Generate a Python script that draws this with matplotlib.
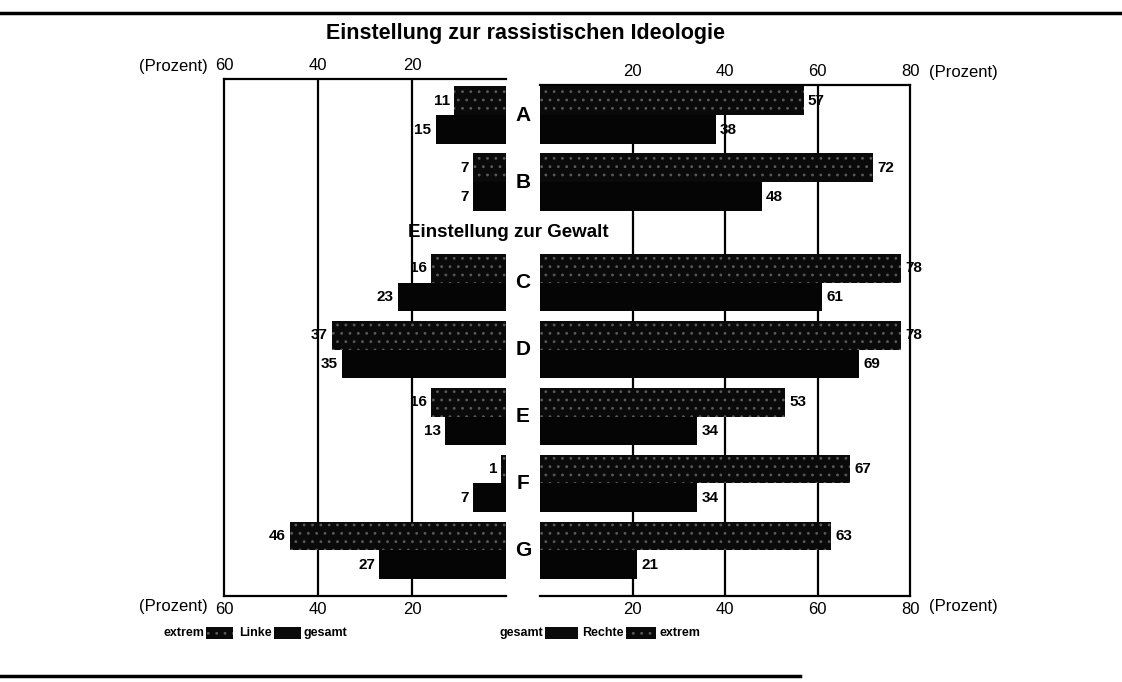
import matplotlib
matplotlib.use('Agg')
import matplotlib.pyplot as plt
import matplotlib.transforms as mtransforms
from matplotlib.patches import Rectangle
from matplotlib.lines import Line2D

plt.rcParams['font.family'] = ['Liberation Sans', 'DejaVu Sans']
plt.rcParams['hatch.linewidth'] = 0.8

# data
categories = ['A', 'B', 'C', 'D', 'E', 'F', 'G']
positions = [0, 1, 2.5, 3.5, 4.5, 5.5, 6.5]
linke_extrem = [11, 7, 16, 37, 16, 1, 46]
linke_gesamt = [15, 7, 23, 35, 13, 7, 27]
rechte_extrem = [57, 72, 78, 78, 53, 67, 63]
rechte_gesamt = [38, 48, 61, 69, 34, 34, 21]
left_ticks = [60, 40, 20]
right_ticks = [20, 40, 60, 80]

W, H = 1122, 682
fig = plt.figure(figsize=(W / 100, H / 100), dpi=100)

def box(x0, y0, x1, y1):
    return [x0 / W, 1 - y1 / H, (x1 - x0) / W, (y1 - y0) / H]

ax_l = fig.add_axes(box(224, 79, 506, 596))
ax_r = fig.add_axes(box(540, 85, 910, 596))

bh = 0.43
top_pos = [p - bh / 2 for p in positions]
bot_pos = [p + bh / 2 for p in positions]

for ax, ext, ges, side in ((ax_l, linke_extrem, linke_gesamt, -1),
                           (ax_r, rechte_extrem, rechte_gesamt, 1)):
    ax.barh(top_pos, ext, height=bh, color='#0a0a0a', zorder=3)
    ax.barh(top_pos, ext, height=bh, facecolor='none', edgecolor='#5a5a5a',
            hatch='..', linewidth=0, zorder=4)
    ax.barh(bot_pos, ges, height=bh, color='#050505', zorder=3)
    for vals, ys in ((ext, top_pos), (ges, bot_pos)):
        for v, y in zip(vals, ys):
            ax.annotate(str(v), (v, y), xytext=(3 * side, 0),
                        textcoords='offset points',
                        ha='left' if side > 0 else 'right', va='center',
                        fontsize=11, fontweight='bold', zorder=5)

ax_l.set_xlim(60, 0)
ax_r.set_xlim(0, 80)
ax_l.set_ylim(7.18, -0.54)
ax_r.set_ylim(7.18, -0.45)

for g in (40, 20):
    ax_l.axvline(g, color='black', lw=1.6, zorder=1)
for g in (20, 40, 60):
    ax_r.axvline(g, color='black', lw=1.6, zorder=1)

ax_l.set_xticks(left_ticks, [str(t) for t in left_ticks])
ax_r.set_xticks(right_ticks, [str(t) for t in right_ticks])
for ax in (ax_l, ax_r):
    ax.set_yticks([])
    ax.tick_params(axis='x', top=True, labeltop=True, length=0,
                   labelsize=12, pad=4)
    for s in ax.spines.values():
        s.set_linewidth(1.6)
ax_l.spines['right'].set_visible(False)
ax_r.spines['left'].set_visible(False)

# "(Prozent)" labels beside the scales
def ftext(x, y, s, **kw):
    fig.text(x / W, 1 - y / H, s, **kw)

ftext(208, 66, '(Prozent)', ha='right', va='center', fontsize=12)
ftext(208, 607, '(Prozent)', ha='right', va='center', fontsize=12)
ftext(929, 72, '(Prozent)', ha='left', va='center', fontsize=12)
ftext(929, 607, '(Prozent)', ha='left', va='center', fontsize=12)

# category letters between the panels
trans = mtransforms.blended_transform_factory(fig.transFigure, ax_r.transData)
for c, p in zip(categories, positions):
    fig.text(523 / W, p, c, transform=trans, ha='center', va='center',
             fontsize=15, fontweight='bold')

ftext(525, 33, 'Einstellung zur rassistischen Ideologie', ha='center',
      va='center', fontsize=15.5, fontweight='bold')
fig.text(408 / W, 1.75, 'Einstellung zur Gewalt', transform=trans,
         ha='left', va='center', fontsize=13.5, fontweight='bold')

# legend row
ly = 633
lkw = dict(va='center', fontsize=9, fontweight='bold')
ftext(204, ly, 'extrem', ha='right', **lkw)
ftext(239, ly, 'Linke', ha='left', **lkw)
ftext(304, ly, 'gesamt', ha='left', **lkw)
ftext(543, ly, 'gesamt', ha='right', **lkw)
ftext(582, ly, 'Rechte', ha='left', **lkw)
ftext(659, ly, 'extrem', ha='left', **lkw)
for x0, x1, hatched in ((206, 233, True), (274, 301, False),
                        (545, 578, False), (626, 656, True)):
    fig.patches.append(Rectangle((x0 / W, 1 - (ly + 6) / H), (x1 - x0) / W,
                                 12 / H, transform=fig.transFigure,
                                 facecolor='#0a0a0a', edgecolor='#5a5a5a',
                                 hatch='..' if hatched else None, lw=0))

# scan border lines
fig.add_artist(Line2D([0, 1], [1 - 13 / H, 1 - 13 / H], color='black', lw=2.5))
fig.add_artist(Line2D([0, 800 / W], [1 - 676 / H, 1 - 676 / H],
                      color='black', lw=2.5))

fig.savefig('out.png', dpi=100)
